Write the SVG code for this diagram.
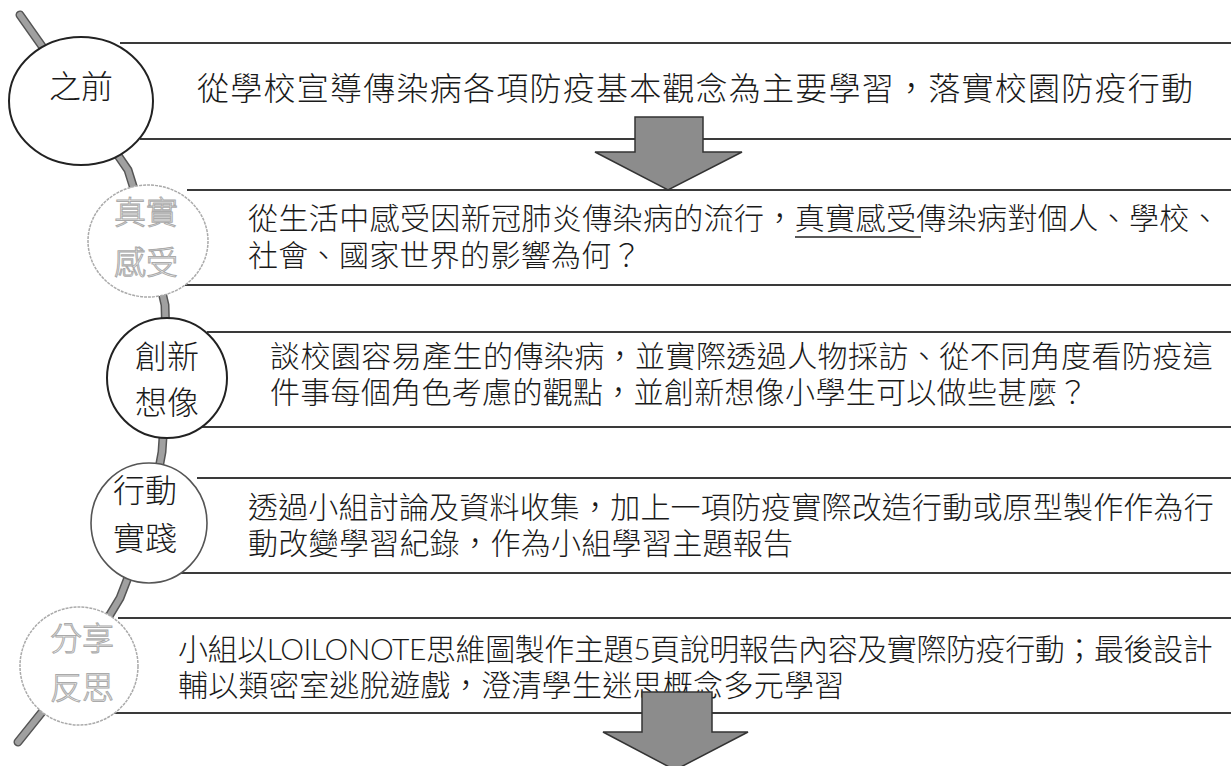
<svg xmlns="http://www.w3.org/2000/svg" width="1231" height="766" viewBox="0 0 1231 766">
<style>
.bg{fill:#fff}
.rule{stroke:#3a3a3a;stroke-width:2;fill:none}
.txt{font-family:"Liberation Sans","Noto Sans CJK TC","Noto Sans CJK SC",sans-serif;font-weight:300;fill:#1a1a1a}
.lat{font-family:Lato,"Liberation Sans",sans-serif;font-weight:300}
.body{font-size:30px;letter-spacing:0.3px}
.lbl{font-size:32px;text-anchor:middle}
.dark{fill:#fff;stroke:#222;stroke-width:2}
.mid{fill:#fff;stroke:#555;stroke-width:1.6}
.faint{fill:#fff;stroke:#aaa;stroke-width:1.5;stroke-dasharray:3 1}
.faintTxt{fill:#fff;stroke:#aaa;stroke-width:1;font-size:32px;text-anchor:middle}
.tl-o{stroke:#555;stroke-width:9;fill:none;stroke-linecap:round}
.tl-i{stroke:#a0a0a0;stroke-width:6;fill:none;stroke-linecap:round}
.arrow{fill:#8c8c8c;stroke:#333;stroke-width:1.5;stroke-linejoin:miter}
</style>
<rect class="bg" x="0" y="0" width="1231" height="766"/>

<g id="connectors">
  <path class="tl-o" d="M20,15 L80,100 L128,170 L150,240 L165,305 L167,378 L162,452 L149,523 L120,598 L79,666 L18,742"/>
  <path class="tl-i" d="M20,15 L80,100 L128,170 L150,240 L165,305 L167,378 L162,452 L149,523 L120,598 L79,666 L18,742"/>
</g>

<g id="rules">
  <line class="rule" x1="120" y1="43" x2="1231" y2="43"/>
  <line class="rule" x1="140" y1="139" x2="1231" y2="139"/>
  <line class="rule" x1="187" y1="190" x2="1231" y2="190"/>
  <line class="rule" x1="185" y1="285" x2="1231" y2="285"/>
  <line class="rule" x1="207" y1="332" x2="1231" y2="332"/>
  <line class="rule" x1="200" y1="427" x2="1231" y2="427"/>
  <line class="rule" x1="197" y1="478" x2="1231" y2="478"/>
  <line class="rule" x1="180" y1="573" x2="1231" y2="573"/>
  <line class="rule" x1="118" y1="618" x2="1231" y2="618"/>
  <line class="rule" x1="113" y1="713" x2="1231" y2="713"/>
</g>

<g id="node-before">
  <ellipse class="dark" cx="81" cy="101" rx="72" ry="64"/>
  <text class="txt lbl" x="81" y="98">之前</text>
  <text class="txt" x="197" y="100" font-size="32" textLength="996" lengthAdjust="spacing">從學校宣導傳染病各項防疫基本觀念為主要學習，落實校園防疫行動</text>
</g>

<g id="node-feel">
  <ellipse class="faint" cx="148" cy="241" rx="60" ry="56"/>
  <text class="txt faintTxt" x="146" y="224">真實</text>
  <text class="txt faintTxt" x="146" y="274">感受</text>
  <text class="txt body" x="248" y="229" textLength="972" lengthAdjust="spacing">從生活中感受因新冠肺炎傳染病的流行，真實感受傳染病對個人、學校、</text>
  <text class="txt body" x="248" y="266">社會、國家世界的影響為何？</text>
  <line x1="795" y1="237" x2="921" y2="237" stroke="#222" stroke-width="1.5"/>
</g>

<g id="node-imagine">
  <ellipse class="dark" cx="167" cy="378" rx="60" ry="60"/>
  <text class="txt lbl" x="167" y="368">創新</text>
  <text class="txt lbl" x="167" y="414">想像</text>
  <text class="txt body" x="270" y="367" textLength="943" lengthAdjust="spacing">談校園容易產生的傳染病，並實際透過人物採訪、從不同角度看防疫這</text>
  <text class="txt body" x="270" y="403">件事每個角色考慮的觀點，並創新想像小學生可以做些甚麼？</text>
</g>

<g id="node-action">
  <ellipse class="mid" cx="149" cy="523" rx="58" ry="60"/>
  <text class="txt lbl" x="145" y="502" fill="#333">行動</text>
  <text class="txt lbl" x="145" y="550" fill="#333">實踐</text>
  <text class="txt body" x="248" y="518" textLength="966" lengthAdjust="spacing">透過小組討論及資料收集，加上一項防疫實際改造行動或原型製作作為行</text>
  <text class="txt body" x="248" y="554">動改變學習紀錄，作為小組學習主題報告</text>
</g>

<g id="node-share">
  <ellipse class="faint" cx="79" cy="666" rx="59" ry="59"/>
  <text class="txt faintTxt" x="82" y="650">分享</text>
  <text class="txt faintTxt" x="82" y="699">反思</text>
  <text class="txt body" x="178" y="660" textLength="1035" lengthAdjust="spacing">小組以<tspan class="lat">LOILONOTE</tspan>思維圖製作主題<tspan class="lat">5</tspan>頁說明報告內容及實際防疫行動；最後設計</text>
  <text class="txt body" x="178" y="696">輔以類密室逃脫遊戲，澄清學生迷思概念多元學習</text>
</g>

<g id="arrows">
  <polygon class="arrow" points="635,117 703,117 703,152 742,152 668,190 595,152 635,152"/>
  <polygon class="arrow" points="642,692 712,692 712,732 748,732 675,770 603,732 642,732"/>
</g>
</svg>
